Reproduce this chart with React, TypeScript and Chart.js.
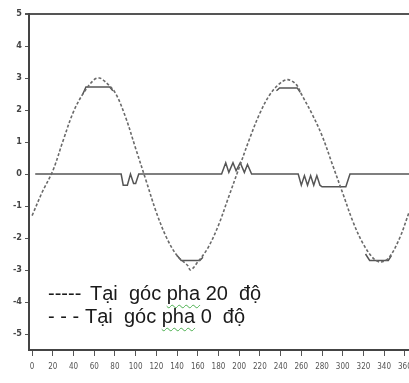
import React, { useEffect, useRef } from "react";
import { Chart, registerables } from "chart.js";

Chart.register(...registerables);

// Phase 0 (dashed) curve: degrees and values
const phase0Deg = [0, 10, 20, 30, 40, 50, 60, 65, 70, 80, 90, 100, 110, 120, 130, 140, 150, 153, 160, 170, 180, 190, 200, 210, 220, 230, 240, 247, 255, 260, 270, 280, 290, 300, 310, 320, 330, 337, 345, 355, 364];
const phase0Val = [-1.3, -0.55, 0.1, 1.05, 1.95, 2.55, 2.95, 3.0, 2.9, 2.55, 1.8, 0.8, -0.2, -1.2, -2.0, -2.55, -2.85, -3.0, -2.75, -2.3, -1.6, -0.7, 0.2, 1.1, 1.9, 2.5, 2.85, 2.95, 2.8, 2.5, 1.9, 1.2, 0.3, -0.6, -1.5, -2.2, -2.65, -2.75, -2.6, -2.0, -1.2];

// Phase 20 (solid) flat-topped caps, null = gap
const capDeg = [49, 52, 75, 78, 79, 140, 144, 162, 165, 166, 236, 239, 256, 259, 260, 322, 326, 344, 347];
const capVal: (number | null)[] = [2.5, 2.72, 2.72, 2.6, null, -2.55, -2.7, -2.7, -2.6, null, 2.6, 2.69, 2.69, 2.55, null, -2.5, -2.7, -2.7, -2.55];

// Phase 20 (solid) line near zero with ripples
const zeroDeg = [3, 86, 88, 92, 95, 98, 100, 103, 183, 187, 190, 194, 197, 201, 205, 208, 212, 257, 260, 263, 266, 269, 272, 275, 278, 280, 303, 307, 364];
const zeroVal = [0, 0, -0.35, -0.35, 0, -0.3, -0.3, 0, 0, 0.35, 0.05, 0.35, 0.1, 0.35, 0.05, 0.3, 0, 0, -0.35, -0.05, -0.35, -0.05, -0.35, -0.05, -0.35, -0.4, -0.4, 0, 0];

const xTicks = [0, 20, 40, 60, 80, 100, 120, 140, 160, 180, 200, 220, 240, 260, 280, 300, 320, 340, 360];
const yTicks = [-5, -4, -3, -2, -1, 0, 1, 2, 3, 4, 5];

const legend1 = { mark: "-----", text1: "Tại  góc ", pha: "pha", text2: " 20  độ" };
const legend2 = { mark: "- - -", text1: "Tại  góc ", pha: "pha", text2: " 0  độ" };

const pts = (xs: number[], ys: (number | null)[]) => xs.map((x, i) => ({ x, y: ys[i] }));

export default function App() {
  const ref = useRef<HTMLCanvasElement>(null);
  useEffect(() => {
    document.body.style.margin = "0";
    const ctx = ref.current!;
    const chart = new Chart(ctx, {
      type: "line",
      data: {
        datasets: [
          {
            data: pts(phase0Deg, phase0Val) as any,
            borderColor: "#6a6a6a",
            borderWidth: 1.6,
            borderDash: [3, 2],
            pointRadius: 0,
            tension: 0.35,
            fill: false,
          },
          {
            data: pts(capDeg, capVal) as any,
            borderColor: "#555",
            borderWidth: 1.5,
            pointRadius: 0,
            tension: 0,
            spanGaps: false,
            fill: false,
          },
          {
            data: pts(zeroDeg, zeroVal) as any,
            borderColor: "#555",
            borderWidth: 1.5,
            pointRadius: 0,
            tension: 0,
            fill: false,
          },
        ],
      },
      options: {
        animation: false,
        responsive: false,
        maintainAspectRatio: false,
        layout: { padding: { top: 14, right: 0, left: 0, bottom: 0 } },
        plugins: { legend: { display: false }, tooltip: { enabled: false } },
        scales: {
          x: {
            type: "linear",
            min: -3,
            max: 364,
            afterBuildTicks: (s: any) => {
              s.ticks = xTicks.map((v) => ({ value: v }));
            },
            afterFit: (s: any) => {
              s.height = 33;
              s.paddingLeft = 0;
              s.paddingRight = 0;
            },
            grid: { display: true, drawOnChartArea: false, tickLength: 6, tickColor: "#555", lineWidth: 1 },
            border: { display: true, color: "#444", width: 2 },
            ticks: {
              autoSkip: false,
              maxRotation: 0,
              padding: 6,
              color: "#555",
              font: { family: "'DejaVu Sans Condensed', 'Liberation Sans Narrow', sans-serif", size: 8 },
              callback: (v: any) => String(v),
            },
          },
          y: {
            type: "linear",
            min: -5.5,
            max: 5,
            afterBuildTicks: (s: any) => {
              s.ticks = yTicks.map((v) => ({ value: v }));
            },
            afterFit: (s: any) => {
              s.width = 29;
              s.paddingTop = 0;
              s.paddingBottom = 0;
            },
            grid: {
              display: true,
              drawOnChartArea: true,
              tickLength: 4,
              tickColor: "#555",
              color: (c: any) => (c.tick && c.tick.value === 5 ? "#555" : "rgba(0,0,0,0)"),
              lineWidth: (c: any) => (c.tick && c.tick.value === 5 ? 2 : 1),
            },
            border: { display: true, color: "#444", width: 2 },
            ticks: {
              autoSkip: false,
              padding: 3,
              color: "#444",
              font: { family: "'DejaVu Sans Condensed', 'Liberation Sans Narrow', sans-serif", size: 9, weight: "bold" },
              callback: (v: any) => String(v),
            },
          },
        },
      },
    });
    return () => chart.destroy();
  }, []);

  const line = (l: typeof legend1, top: number, textLeft: number) => (
    <div style={{ position: "absolute", left: 48, top, whiteSpace: "pre", fontFamily: "'Liberation Sans', Arial, sans-serif", fontSize: 20, lineHeight: "23px", color: "#1a1a1a" }}>
      <span>{l.mark}</span>
      <span style={{ position: "absolute", left: textLeft, top: 0 }}>
        {l.text1}
        <span style={{ textDecoration: "underline wavy #4caf50", textDecorationThickness: "1px", textUnderlineOffset: "4px" }}>{l.pha}</span>
        {l.text2}
      </span>
    </div>
  );

  return (
    <div style={{ position: "relative", width: 409, height: 383, background: "#fff", overflow: "hidden" }}>
      <canvas ref={ref} width={409} height={383} style={{ display: "block" }} />
      {line(legend1, 282, 42)}
      {line(legend2, 305, 37)}
    </div>
  );
}
